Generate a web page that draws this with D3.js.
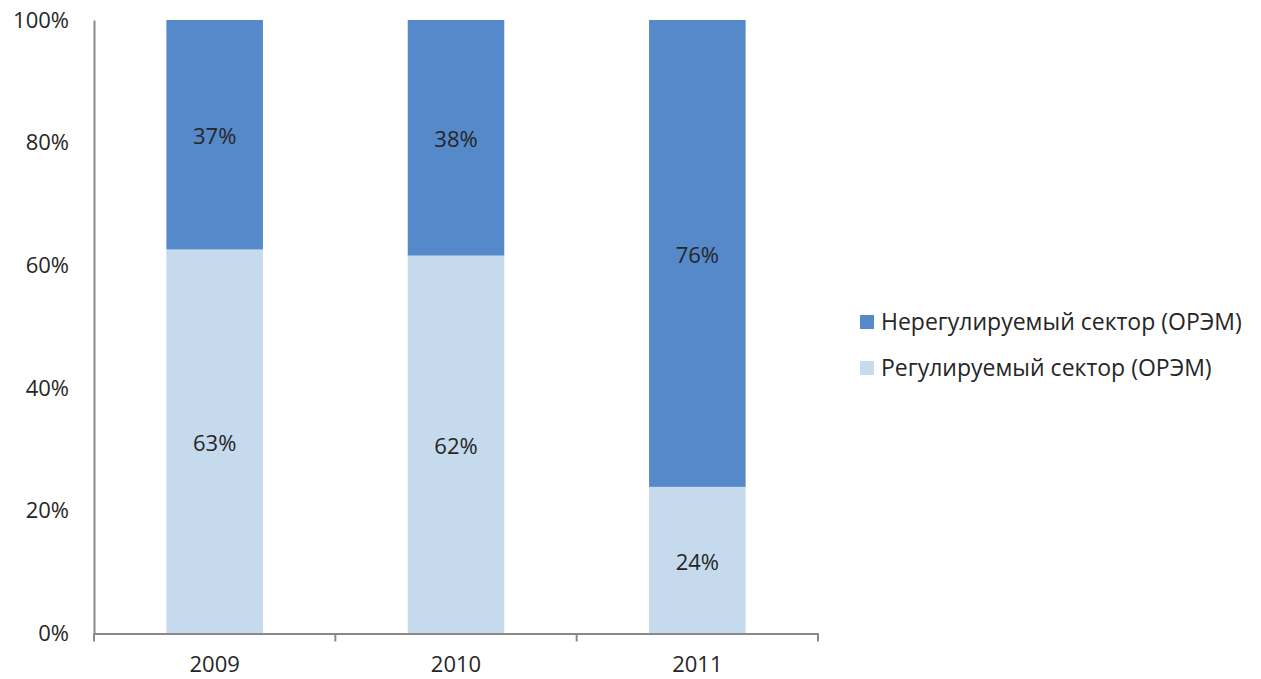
<!DOCTYPE html>
<html><head><meta charset="utf-8">
<script src="https://cdn.jsdelivr.net/npm/d3@7"></script>
<style>body{margin:0;background:#fff}svg{display:block}text{font-family:"Open Sans","Liberation Sans",sans-serif;fill:#262626}</style>
</head><body><svg id="c" width="1261" height="679"></svg>
<script>
const categories = ["2009","2010","2011"];
const regulated = [62.6, 61.6, 23.9];
const unregulated = [37.4, 38.4, 76.1];
const regulatedLabels = ["63%","62%","24%"];
const unregulatedLabels = ["37%","38%","76%"];
const seriesNames = ["Нерегулируемый сектор (ОРЭМ)","Регулируемый сектор (ОРЭМ)"];
const yTicks = [0,20,40,60,80,100];
const colors = {unreg:"#5589CA", reg:"#C6DAEE", axis:"#898989"};
const FONT = '"Open Sans","Liberation Sans",sans-serif';

const svg = d3.select("#c");
const x = d3.scaleBand().domain(categories).range([94, 818]).paddingInner(0.6).paddingOuter(0.3);
const xb = d3.scaleBand().domain(categories).range([94, 818]);
const y = d3.scaleLinear().domain([0,100]).range([633.5, 20]);

const rows = categories.map((c,i)=>({c, reg:regulated[i], unreg:unregulated[i], rl:regulatedLabels[i], ul:unregulatedLabels[i]}));

// bars
const g = svg.append("g");
g.selectAll("rect.reg").data(rows).join("rect").attr("class","reg")
  .attr("x", d=>x(d.c)).attr("width", x.bandwidth())
  .attr("y", d=>y(d.reg)).attr("height", d=>y(0)-y(d.reg)).attr("fill", colors.reg);
g.selectAll("rect.unreg").data(rows).join("rect").attr("class","unreg")
  .attr("x", d=>x(d.c)).attr("width", x.bandwidth())
  .attr("y", d=>y(d.reg+d.unreg)).attr("height", d=>y(d.reg)-y(d.reg+d.unreg)).attr("fill", colors.unreg);

// labels
g.selectAll("text.rl").data(rows).join("text").attr("class","rl")
  .attr("x", d=>x(d.c)+x.bandwidth()/2).attr("y", d=>y(d.reg/2)).attr("dy","0.44em")
  .attr("text-anchor","middle").attr("font-size",22).text(d=>d.rl);
g.selectAll("text.ul").data(rows).join("text").attr("class","ul")
  .attr("x", d=>x(d.c)+x.bandwidth()/2).attr("y", d=>y(d.reg+d.unreg/2)).attr("dy","0.44em")
  .attr("text-anchor","middle").attr("font-size",22).text(d=>d.ul);

// y axis
const ya = svg.append("g").attr("transform","translate(94,0)")
  .call(d3.axisLeft(y).tickValues(yTicks).tickFormat(d=>d+"%").tickSize(0).tickPadding(25));
ya.select(".domain").attr("stroke",colors.axis).attr("stroke-width",2);
ya.selectAll("text").attr("font-size",22).attr("fill","#262626").style("font-family",FONT);

// x axis
const xa = svg.append("g").attr("transform","translate(0,633.5)")
  .call(d3.axisBottom(xb).tickSize(0).tickPadding(23));
xa.select(".domain").attr("stroke",colors.axis).attr("stroke-width",2);
xa.selectAll("text").attr("font-size",22).attr("fill","#262626").style("font-family",FONT);
const bounds = categories.map(c=>xb(c)).concat([xb(categories[categories.length-1])+xb.bandwidth()]);
xa.selectAll("line.sep").data(bounds).join("line").attr("class","sep")
  .attr("x1",d=>d).attr("x2",d=>d).attr("y1",0).attr("y2",8)
  .attr("stroke",colors.axis).attr("stroke-width",2);

// legend
const leg = svg.append("g").attr("transform","translate(860,322)");
const li = leg.selectAll("g").data([{n:seriesNames[0],c:colors.unreg},{n:seriesNames[1],c:colors.reg}]).join("g")
  .attr("transform",(d,i)=>`translate(0,${i*46})`);
li.append("rect").attr("x",0).attr("y",-7).attr("width",14).attr("height",14).attr("fill",d=>d.c);
li.append("text").attr("x",21).attr("y",0).attr("dy","0.35em").attr("font-size",23).text(d=>d.n);
</script></body></html>
